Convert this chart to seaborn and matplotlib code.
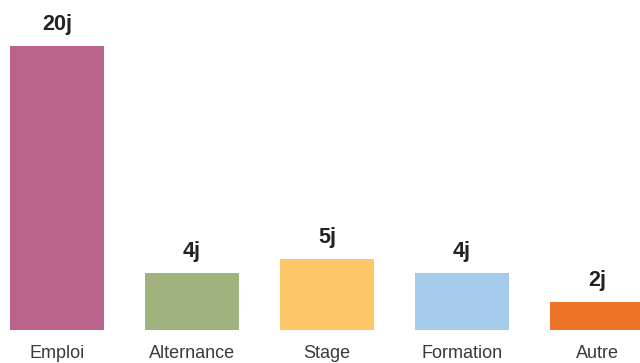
import pandas as pd
import matplotlib
matplotlib.use('Agg')
import matplotlib.pyplot as plt
import seaborn as sns

# données
categories = ['Emploi', 'Alternance', 'Stage', 'Formation', 'Autre']
jours = [20, 4, 5, 4, 2]
couleurs = ['#B8628C', '#A0B37E', '#FDC76A', '#A6CAEA', '#EB7325']

df = pd.DataFrame({'categorie': categories, 'jours': jours})

sns.set_theme(style='white')
plt.rcParams['font.family'] = ['Liberation Sans', 'DejaVu Sans']

fig = plt.figure(figsize=(6.4, 3.63), dpi=100)
ax = fig.add_axes([0, 33 / 363, 1, 330 / 363])

sns.barplot(data=df, x='categorie', y='jours', hue='categorie',
            palette=couleurs, width=0.7, saturation=1, legend=False,
            linewidth=0, ax=ax)

ax.set_xlim(-57 / 135, -57 / 135 + 640 / 135)
ax.set_ylim(0, 330 / 14.2)

for i, v in enumerate(jours):
    ax.text(i, v + 1.13, f'{v}j', ha='center', va='baseline',
            fontsize=15.5, fontweight='bold', color='#222222', clip_on=False)

ax.set_xlabel('')
ax.set_ylabel('')
ax.set_yticks([])
ax.tick_params(axis='x', length=0, pad=10.5, labelsize=13, labelcolor='#3a3a3a')
sns.despine(ax=ax, left=True, bottom=True)

plt.savefig('out.png', dpi=100)
